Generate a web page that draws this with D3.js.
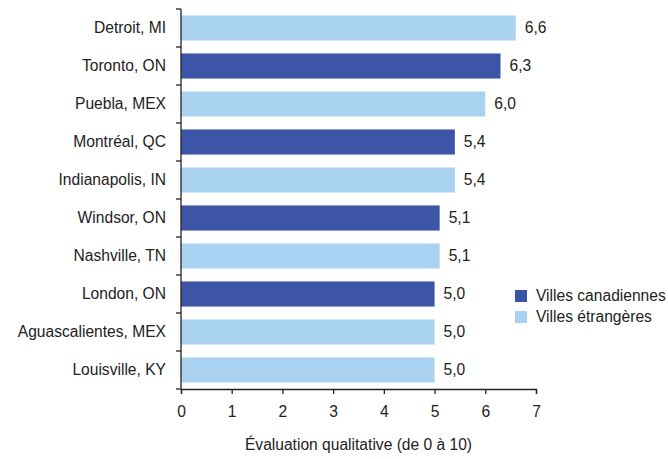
<!DOCTYPE html>
<html><head><meta charset="utf-8">
<script src="https://cdn.jsdelivr.net/npm/d3@7"></script>
<style>body{margin:0;background:#fff}svg{display:block}text{font-family:"Liberation Sans",Arial,sans-serif;fill:#222}</style>
</head><body>
<svg id="c" width="668" height="459"></svg>
<script>
const categories = ["Detroit, MI","Toronto, ON","Puebla, MEX","Montréal, QC","Indianapolis, IN","Windsor, ON","Nashville, TN","London, ON","Aguascalientes, MEX","Louisville, KY"];
const values = [6.6,6.3,6.0,5.4,5.4,5.1,5.1,5.0,5.0,5.0];
const groups = ["étrangère","canadienne","étrangère","canadienne","étrangère","canadienne","étrangère","canadienne","étrangère","étrangère"];
const valueLabels = ["6,6","6,3","6,0","5,4","5,4","5,1","5,1","5,0","5,0","5,0"];
const xTicks = [0,1,2,3,4,5,6,7];
const legendLabels = ["Villes canadiennes","Villes étrangères"];
const colors = {"canadienne":"#3d55a6","étrangère":"#a9d2f0"};
const FS = 15.6;

const svg = d3.select("#c");
const x = d3.scaleLinear().domain([0,7]).range([181,536]);
const y = d3.scaleBand().domain(categories).range([9,389]).paddingInner(0.34).paddingOuter(0.17);

svg.selectAll("rect.bar").data(categories).join("rect").attr("class","bar")
  .attr("x",x(0)).attr("y",d=>y(d)).attr("height",y.bandwidth())
  .attr("width",(d,i)=>x(values[i])-x(0)).attr("fill",(d,i)=>colors[groups[i]]);

svg.selectAll("text.val").data(categories).join("text").attr("class","val")
  .attr("x",(d,i)=>x(values[i])+9).attr("y",d=>y(d)+y.bandwidth()/2).attr("dy","0.35em")
  .attr("font-size",FS).text((d,i)=>valueLabels[i]);

// y axis
const step = y.step();
const yg = svg.append("g");
yg.append("line").attr("x1",x(0)).attr("x2",x(0)).attr("y1",9).attr("y2",389).attr("stroke","#222").attr("stroke-width",1.3);
const bounds = d3.range(categories.length+1).map(i=>9+i*step);
yg.selectAll("line.t").data(bounds).join("line").attr("class","t")
  .attr("x1",x(0)-5).attr("x2",x(0)).attr("y1",d=>d).attr("y2",d=>d).attr("stroke","#222").attr("stroke-width",1.3);
yg.selectAll("text").data(categories).join("text")
  .attr("x",166).attr("y",d=>y(d)+y.bandwidth()/2).attr("dy","0.35em").attr("text-anchor","end")
  .attr("font-size",FS).text(d=>d);

// x axis
const xg = svg.append("g").attr("transform","translate(0,389)");
xg.call(d3.axisBottom(x).tickValues(xTicks).tickSize(5).tickPadding(12).tickFormat(d=>d));
xg.select(".domain").attr("stroke","#222").attr("stroke-width",1.3);
xg.selectAll(".tick line").attr("stroke","#222").attr("stroke-width",1.3);
xg.selectAll(".tick text").attr("font-size",FS).attr("font-family","Liberation Sans, Arial, sans-serif").attr("fill","#222");

svg.append("text").attr("x",x(3.5)).attr("y",450).attr("text-anchor","middle").attr("font-size",FS)
  .text("Évaluation qualitative (de 0 à 10)");

// legend
const lg = svg.append("g");
legendLabels.forEach((l,i)=>{
  lg.append("rect").attr("x",515).attr("y",290+i*21).attr("width",12).attr("height",12)
    .attr("fill",i===0?colors["canadienne"]:colors["étrangère"]);
  lg.append("text").attr("x",536).attr("y",296+i*21).attr("dy","0.35em").attr("font-size",FS).text(l);
});
</script>
</body></html>
